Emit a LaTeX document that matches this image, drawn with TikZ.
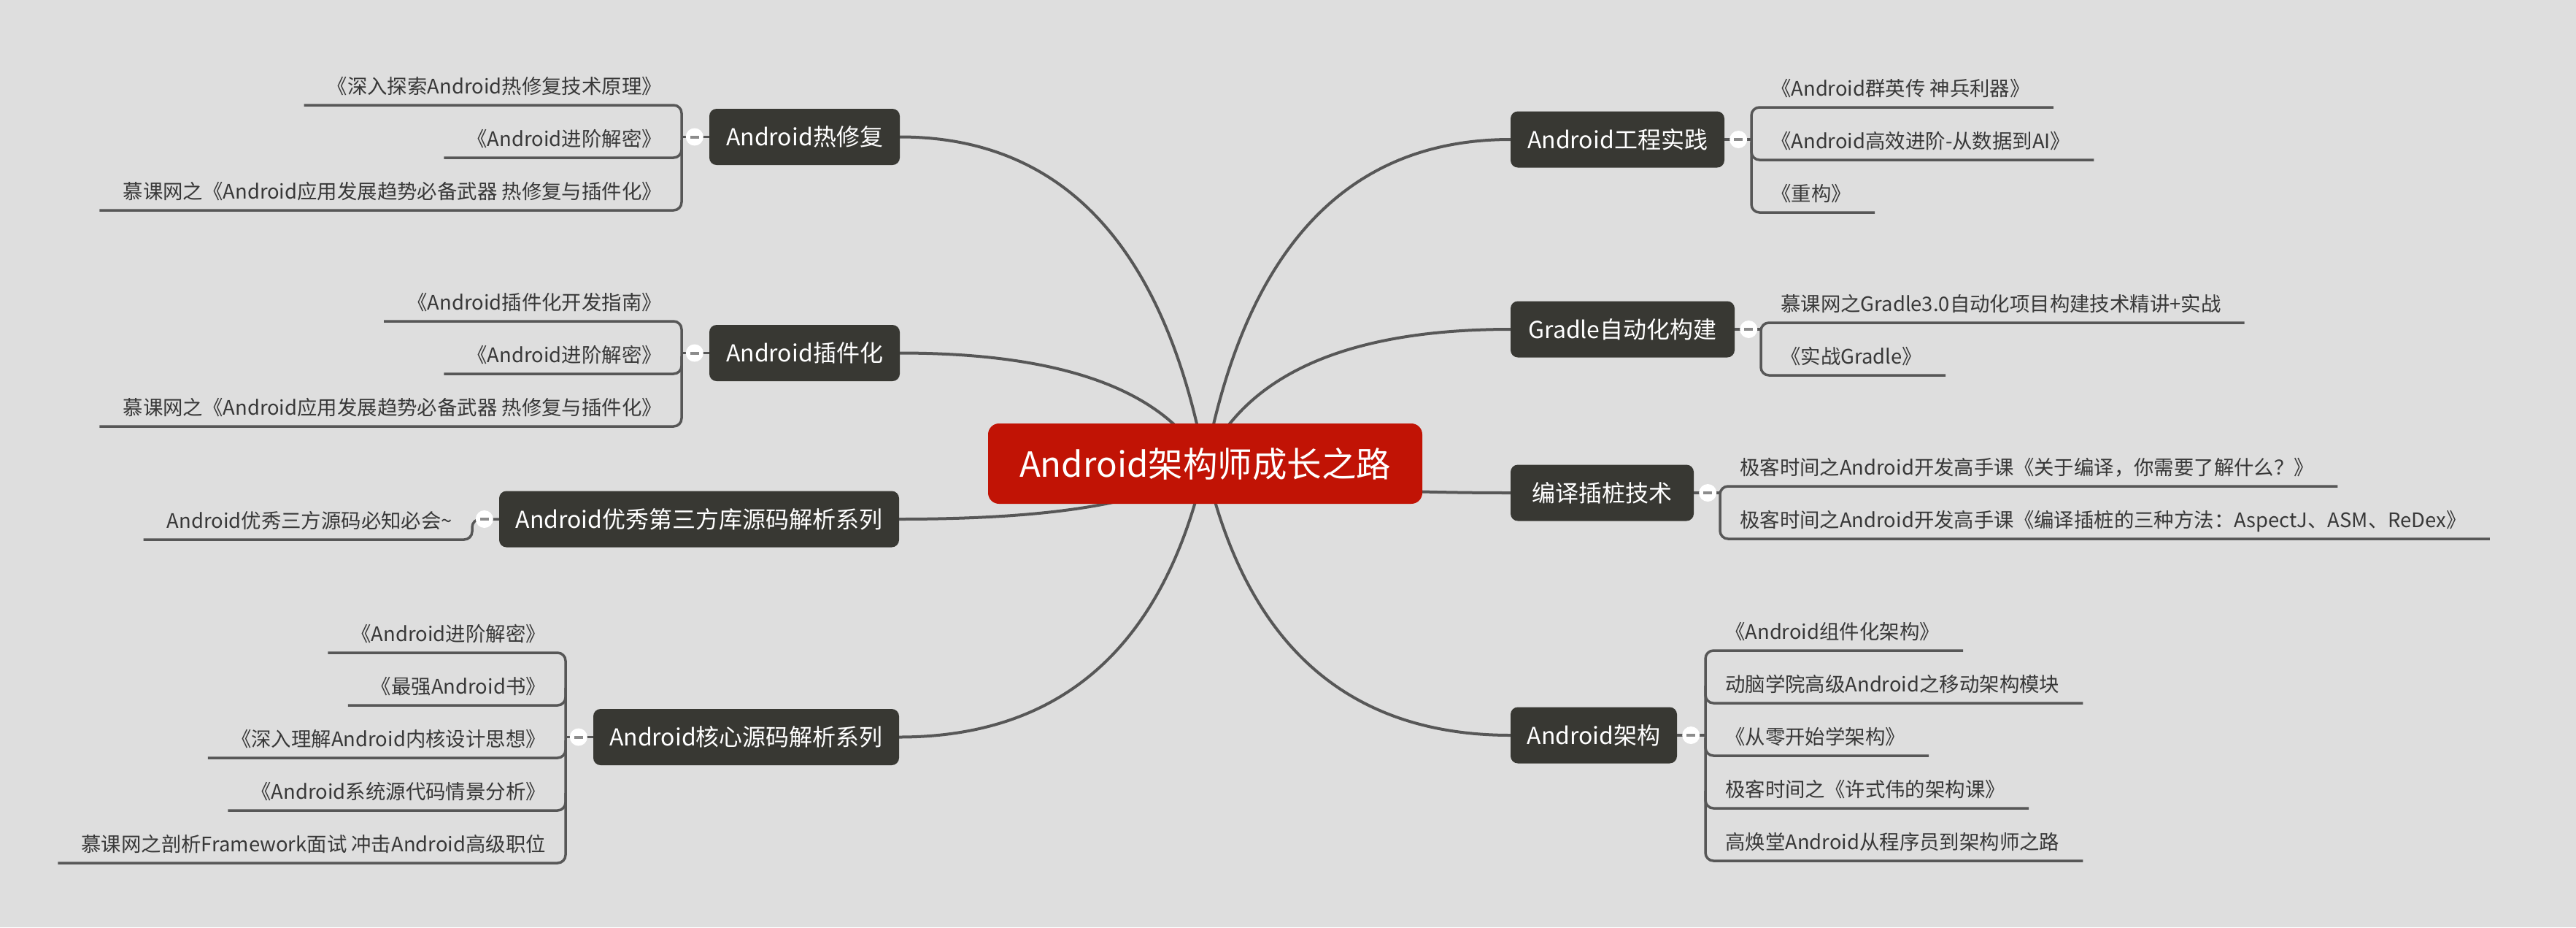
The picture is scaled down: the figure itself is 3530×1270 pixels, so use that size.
\documentclass[tikz,border=0pt]{standalone}
\usepackage{fontspec}
\setmainfont{Noto Sans CJK SC}
\definecolor{bg}{HTML}{DEDEDE}
\definecolor{boxc}{HTML}{383833}
\definecolor{rootc}{HTML}{C11305}
\definecolor{linec}{HTML}{575757}
\definecolor{leaftext}{HTML}{383838}
\definecolor{knobbar}{HTML}{8C8C8C}
\tikzset{
  rootbox/.style={fill=rootc, rounded corners=15pt, text=white, font=\fontsize{47.5}{58}\selectfont, minimum width=595pt, minimum height=110pt, inner sep=0pt},
  mainbox/.style={fill=boxc, rounded corners=10pt, text=white, font=\fontsize{32}{38}\selectfont, minimum height=77pt, inner sep=0pt},
  leafbase/.style={text=leaftext, font=\fontsize{27.4}{34}\selectfont, inner xsep=27pt, inner ysep=15pt, text depth=0pt, text height=24pt},
  leafL/.style={leafbase, anchor=south east},
  leafR/.style={leafbase, anchor=south west},
  conn/.style={draw=linec, line width=4pt},
  brk/.style={draw=linec, line width=3.5pt, rounded corners=11pt},
  knob/.style={circle, fill=white, minimum size=24pt, inner sep=0pt,
    path picture={\fill[knobbar] ([xshift=-6pt,yshift=-2pt]path picture bounding box.center) rectangle ([xshift=6pt,yshift=2pt]path picture bounding box.center);}},
}
\begin{document}
\begin{tikzpicture}[x=1pt,y=-1pt]
\fill[bg] (0,0) rectangle (3530,1270);
\useasboundingbox (0,0) rectangle (3530,1270);

\path (1651.5,635) coordinate (rc);
% ---------- connectors root -> branches ----------
\draw[conn] (rc) .. controls (1595.7,336.7) and (1456.2,187.5) .. (1233,187.5) coordinate (hotE);
\draw[conn] (rc) .. controls (1595.6,534) and (1456,483.5) .. (1232.5,483.5) coordinate (plugE);
\draw[conn] (rc) .. controls (1595.6,685.7) and (1455.7,711) .. (1232,711) coordinate (thirdE);
\draw[conn] (rc) .. controls (1595.6,884.7) and (1455.7,1009.5) .. (1232,1009.5) coordinate (coreE);
\draw[conn] (rc) .. controls (1707.3,339) and (1846.8,191) .. (2070,191) coordinate (engW);
\draw[conn] (rc) .. controls (1707.3,512.3) and (1846.8,451) .. (2070,451) coordinate (gradW);
\draw[conn] (rc) .. controls (1707.3,661.7) and (1846.8,675) .. (2070,675) coordinate (instW);
\draw[conn] (rc) .. controls (1707.3,883) and (1846.8,1007) .. (2070,1007) coordinate (archW);

% ---------- root ----------
\node[rootbox] (root) at (rc) {Android架构师成长之路};

% ---------- branch boxes ----------
\node[mainbox, minimum width=261pt] (hot) at (1102.5,187.5) {Android热修复};
\node[mainbox, minimum width=261pt] (plug) at (1102.5,483.5) {Android插件化};
\node[mainbox, minimum width=548pt] (third) at (958,711) {Android优秀第三方库源码解析系列};
\node[mainbox, minimum width=419pt] (core) at (1022.5,1009.5) {Android核心源码解析系列};
\node[mainbox, minimum width=293pt] (eng) at (2216.5,191) {Android工程实践};
\node[mainbox, minimum width=307pt] (grad) at (2223.5,451) {Gradle自动化构建};
\node[mainbox, minimum width=251pt] (inst) at (2195.5,675) {编译插桩技术};
\node[mainbox, minimum width=228pt] (arch) at (2184,1007) {Android架构};

% ---------- leaves: left ----------
\node[leafL] (h1) at (934,144) {《深入探索Android热修复技术原理》};
\node[leafL] (h2) at (934,216) {《Android进阶解密》};
\node[leafL] (h3) at (934,288) {慕课网之《Android应用发展趋势必备武器 热修复与插件化》};

\node[leafL] (p1) at (934,440) {《Android插件化开发指南》};
\node[leafL] (p2) at (934,512) {《Android进阶解密》};
\node[leafL] (p3) at (934,584) {慕课网之《Android应用发展趋势必备武器 热修复与插件化》};

\node[leafL] (t1) at (647,739) {Android优秀三方源码必知必会\textasciitilde};

\node[leafL] (c1) at (775,894) {《Android进阶解密》};
\node[leafL] (c2) at (775,966) {《最强Android书》};
\node[leafL] (c3) at (775,1038) {《深入理解Android内核设计思想》};
\node[leafL] (c4) at (775,1110) {《Android系统源代码情景分析》};
\node[leafL] (c5) at (775,1182) {慕课网之剖析Framework面试 冲击Android高级职位};

% ---------- leaves: right ----------
\node[leafR] (e1) at (2400,147) {《Android群英传 神兵利器》};
\node[leafR] (e2) at (2400,219) {《Android高效进阶-从数据到AI》};
\node[leafR] (e3) at (2400,291) {《重构》};

\node[leafR] (g1) at (2413,442) {慕课网之Gradle3.0自动化项目构建技术精讲+实战};
\node[leafR] (g2) at (2413,514) {《实战Gradle》};

\node[leafR] (i1) at (2357,666) {极客时间之Android开发高手课《关于编译，你需要了解什么？》};
\node[leafR] (i2) at (2357,738) {极客时间之Android开发高手课《编译插桩的三种方法：AspectJ、ASM、ReDex》};

\node[leafR] (a1) at (2337,891) {《Android组件化架构》};
\node[leafR] (a2) at (2337,963) {动脑学院高级Android之移动架构模块};
\node[leafR] (a3) at (2337,1035) {《从零开始学架构》};
\node[leafR] (a4) at (2337,1107) {极客时间之《许式伟的架构课》};
\node[leafR] (a5) at (2337,1179) {高焕堂Android从程序员到架构师之路};

% ---------- brackets left ----------
\draw[brk] (hot.west) -- (hot.west -| h1.south east);
\draw[brk] ([xshift=-5pt]h1.south west) -- (h1.south east) -- (h3.south east) -- ([xshift=-5pt]h3.south west);
\draw[brk] ([yshift=24pt]h2.south east) -- (h2.south east) -- ([xshift=-5pt]h2.south west);

\draw[brk] (plug.west) -- (plug.west -| p1.south east);
\draw[brk] ([xshift=-5pt]p1.south west) -- (p1.south east) -- (p3.south east) -- ([xshift=-5pt]p3.south west);
\draw[brk] ([yshift=24pt]p2.south east) -- (p2.south east) -- ([xshift=-5pt]p2.south west);

\draw[brk] (third.west) -- (third.west -| t1.south east) -- (t1.south east) -- ([xshift=-5pt]t1.south west);

\draw[brk] (core.west) -- (core.west -| c1.south east);
\draw[brk] ([xshift=-5pt]c1.south west) -- (c1.south east) -- (c5.south east) -- ([xshift=-5pt]c5.south west);
\foreach \n in {c2,c3,c4}
  \draw[brk] ([yshift=24pt]\n.south east) -- (\n.south east) -- ([xshift=-5pt]\n.south west);

% ---------- brackets right ----------
\draw[brk] (eng.east) -- (eng.east -| e1.south west);
\draw[brk] ([xshift=5pt]e1.south east) -- (e1.south west) -- (e3.south west) -- ([xshift=5pt]e3.south east);
\draw[brk] ([yshift=24pt]e2.south west) -- (e2.south west) -- ([xshift=5pt]e2.south east);

\draw[brk] (grad.east) -- (grad.east -| g1.south west);
\draw[brk] ([xshift=5pt]g1.south east) -- (g1.south west) -- (g2.south west) -- ([xshift=5pt]g2.south east);

\draw[brk] (inst.east) -- (inst.east -| i1.south west);
\draw[brk] ([xshift=5pt]i1.south east) -- (i1.south west) -- (i2.south west) -- ([xshift=5pt]i2.south east);

\draw[brk] (arch.east) -- (arch.east -| a1.south west);
\draw[brk] ([xshift=5pt]a1.south east) -- (a1.south west) -- (a5.south west) -- ([xshift=5pt]a5.south east);
\foreach \n in {a2,a3,a4}
  \draw[brk] ([yshift=24pt]\n.south west) -- (\n.south west) -- ([xshift=5pt]\n.south east);

% ---------- collapse knobs ----------
\node[knob] (kh) at ([xshift=-20pt]hot.west) {};
\node[knob] (kp) at ([xshift=-20pt]plug.west) {};
\node[knob] (kt) at ([xshift=-20pt]third.west) {};
\node[knob] (kc) at ([xshift=-20pt]core.west) {};
\node[knob] (ke) at ([xshift=19pt]eng.east) {};
\node[knob] (kg) at ([xshift=19pt]grad.east) {};
\node[knob] (ki) at ([xshift=19pt]inst.east) {};
\node[knob] (ka) at ([xshift=19pt]arch.east) {};
\end{tikzpicture}
\end{document}
